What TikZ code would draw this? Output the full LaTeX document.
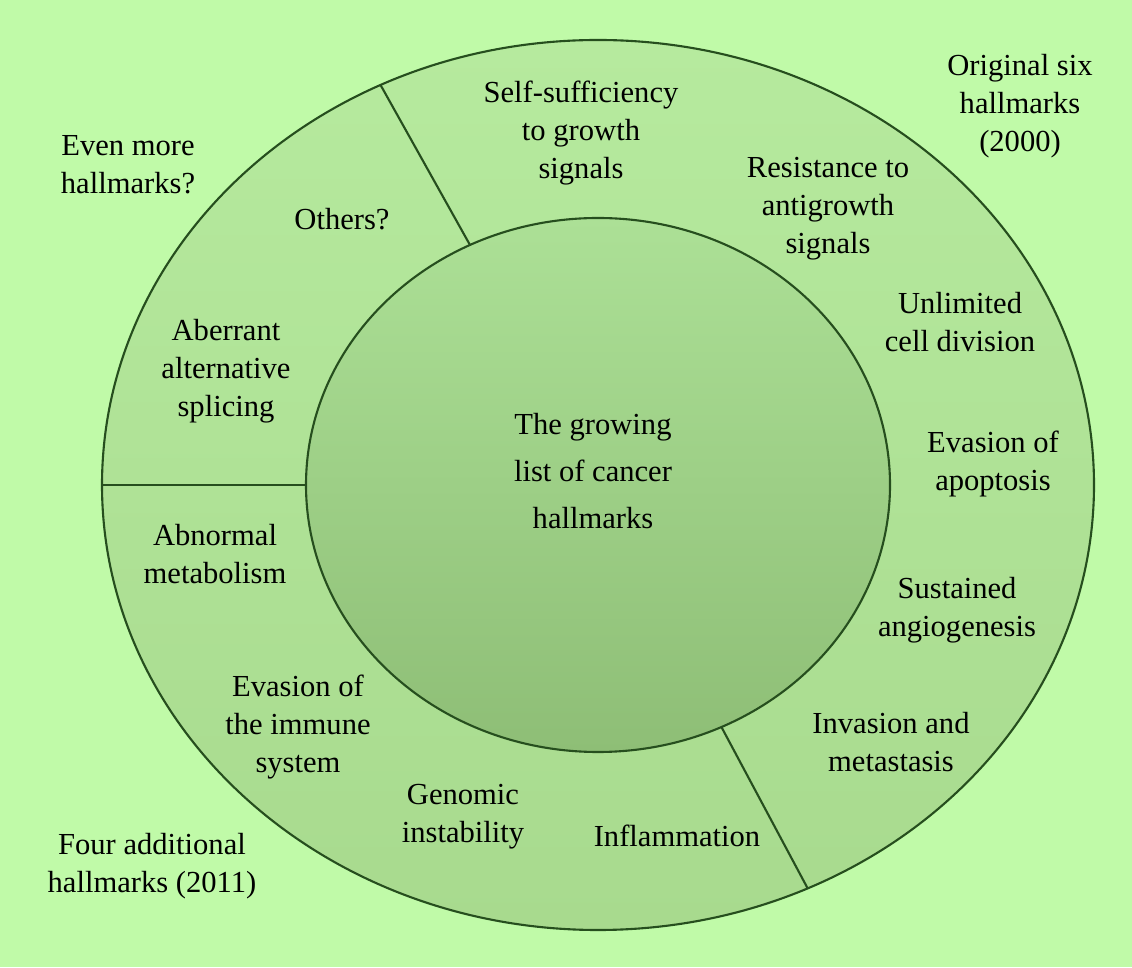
\documentclass[tikz,border=0pt]{standalone}
\usepackage{fontspec}
\setmainfont{Liberation Serif}

\definecolor{bggreen}{RGB}{192,250,168}
\definecolor{ringtop}{RGB}{182,234,158}
\definecolor{ringbot}{RGB}{168,218,142}
\definecolor{coretop}{RGB}{172,224,150}
\definecolor{corebot}{RGB}{142,190,118}
\definecolor{edgegreen}{RGB}{38,78,30}

\tikzset{
  hallmark/.style={align=center, inner sep=0pt, font=\fontsize{8.7}{10.8}\selectfont},
  core/.style={hallmark, font=\fontsize{8.7}{13.3}\selectfont},
  edge/.style={draw=edgegreen, line width=0.6pt},
}

\begin{document}
\begin{tikzpicture}
    % Page background
    \fill[bggreen] (0,0) rectangle (11.32,9.67);
    \useasboundingbox (0,0) rectangle (11.32,9.67);
    \coordinate (c) at (5.98,4.82);

    % Outer ring
    \shadedraw[edge, top color=ringtop, bottom color=ringbot]
        (c) ellipse [x radius=4.96, y radius=4.45];

    % Inner disc
    \shadedraw[edge, top color=coretop, bottom color=corebot]
        (c) ellipse [x radius=2.92, y radius=2.67];

    % Dividers between the groups of hallmarks
    \foreach \a in {116,180,-65}
        \draw[edge, shift={(c)}] (\a:2.92cm and 2.67cm) -- (\a:4.96cm and 4.45cm);

    % Centre
    \node[core] (list) at (5.93,4.96) {The growing\\list of cancer\\hallmarks};

    % Original six hallmarks
    \node[hallmark] (selfsuff) at (5.81,8.34) {Self-sufficiency\\to growth\\signals};
    \node[hallmark] (resist) at (8.28,7.58) {Resistance to\\antigrowth\\signals};
    \node[hallmark] (unlimited) at (9.60,6.45) {Unlimited\\cell division};
    \node[hallmark] (apoptosis) at (9.93,5.03) {Evasion of\\apoptosis};
    \node[hallmark] (angio) at (9.57,3.57) {Sustained\\angiogenesis};
    \node[hallmark] (invasion) at (8.91,2.25) {Invasion and\\metastasis};

    % Four additional hallmarks
    \node[hallmark] (inflam) at (6.77,1.31) {Inflammation};
    \node[hallmark] (genomic) at (4.63,1.50) {Genomic\\instability};
    \node[hallmark] (immune) at (2.98,2.40) {Evasion of\\the immune\\system};
    \node[hallmark] (abnormal) at (2.15,4.13) {Abnormal\\metabolism};

    % Even more
    \node[hallmark] (splicing) at (2.26,5.96) {Aberrant\\alternative\\splicing};
    \node[hallmark] (others) at (3.42,7.48) {Others?};

    % Group labels outside the ring
    \node[hallmark] (origlabel) at (10.20,8.61) {Original six\\hallmarks\\(2000)};
    \node[hallmark] (morelabel) at (1.28,8.02) {Even more\\hallmarks?};
    \node[hallmark] (fourlabel) at (1.52,1.01) {Four additional\\hallmarks (2011)};
\end{tikzpicture}
\end{document}
